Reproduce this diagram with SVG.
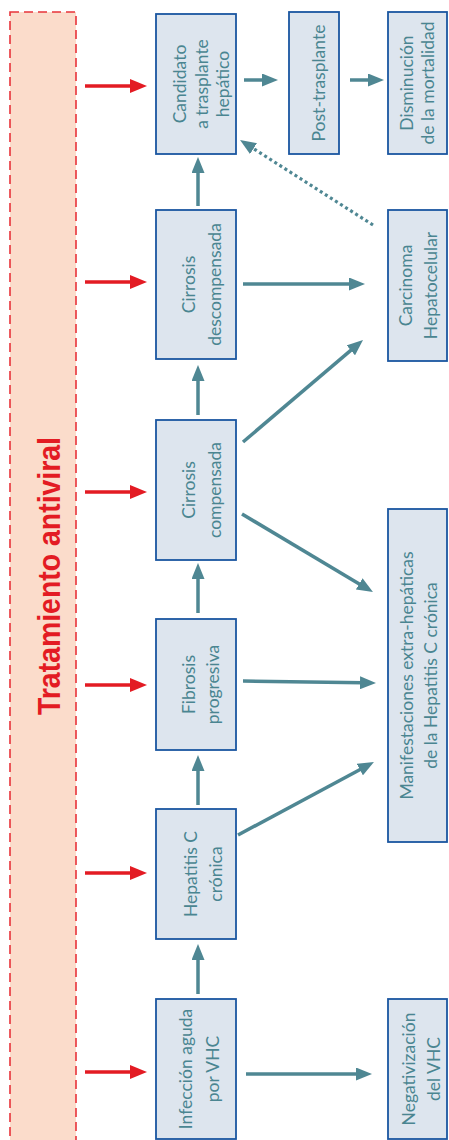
<svg xmlns="http://www.w3.org/2000/svg" width="449" height="1140" viewBox="0 0 449 1140">
<style>
.box{fill:#dde5ee;stroke:#1a56a0;stroke-width:1.8}
.lbl{font-family:Lato,"Liberation Sans",sans-serif;font-size:17.5px;fill:#4a8591;text-anchor:middle}
.ta{stroke:#4f8793;stroke-width:3.5;fill:none;marker-end:url(#ah)}
.ra{stroke:#e31b23;stroke-width:3.5;fill:none;marker-end:url(#rh)}
.dot{stroke:#4f8793;stroke-width:3.2;fill:none;stroke-dasharray:3 3;marker-end:url(#ah)}
</style>
<defs>
<marker id="ah" markerUnits="userSpaceOnUse" markerWidth="16" markerHeight="13" refX="3" refY="6.5" orient="auto"><path d="M0,0 L16,6.5 L0,13 z" fill="#4f8793"/></marker>
<marker id="rh" markerUnits="userSpaceOnUse" markerWidth="17" markerHeight="14" refX="3" refY="7" orient="auto"><path d="M0,0 L17,7 L0,14 z" fill="#e31b23"/></marker>
</defs>
<rect width="449" height="1140" fill="#ffffff"/>
<g id="tratamiento">
<rect x="10" y="12" width="66" height="1140" fill="#fbdccb" stroke="#e8333a" stroke-width="1.6" stroke-dasharray="9 5"/>
<text transform="translate(60,576) rotate(-90)" text-anchor="middle" font-family="'Liberation Sans',Arial,sans-serif" font-weight="bold" font-size="32" fill="#e31b23" textLength="278" lengthAdjust="spacingAndGlyphs">Tratamiento antiviral</text>
</g>
<g id="candidato">
<rect class="box" x="156" y="14" width="80" height="140"/>
<g transform="translate(0,84) rotate(-90)"><text class="lbl" x="0" y="186">Candidato</text><text class="lbl" x="0" y="207.5">a trasplante</text><text class="lbl" x="0" y="229">hepático</text></g>
</g>
<g id="post">
<rect class="box" x="289" y="12" width="50" height="142"/>
<g transform="translate(0,83) rotate(-90)"><text class="lbl" x="0" y="325">Post-trasplante</text></g>
</g>
<g id="disminucion">
<rect class="box" x="388" y="12" width="59" height="142"/>
<g transform="translate(0,83) rotate(-90)"><text class="lbl" x="0" y="413">Disminución</text><text class="lbl" x="0" y="433.5">de la mortalidad</text></g>
</g>
<g id="cirrosis-desc">
<rect class="box" x="156" y="210" width="80" height="149"/>
<g transform="translate(0,284.5) rotate(-90)"><text class="lbl" x="0" y="195">Cirrosis</text><text class="lbl" x="0" y="220.5">descompensada</text></g>
</g>
<g id="carcinoma">
<rect class="box" x="388" y="210" width="59" height="151"/>
<g transform="translate(0,285.5) rotate(-90)"><text class="lbl" x="0" y="411.5">Carcinoma</text><text class="lbl" x="0" y="436.5">Hepatocelular</text></g>
</g>
<g id="cirrosis-comp">
<rect class="box" x="156" y="420" width="80" height="140"/>
<g transform="translate(0,490) rotate(-90)"><text class="lbl" x="0" y="195">Cirrosis</text><text class="lbl" x="0" y="220.5">compensada</text></g>
</g>
<g id="manifestaciones">
<rect class="box" x="388" y="509" width="59" height="333"/>
<g transform="translate(0,675.5) rotate(-90)"><text class="lbl" x="0" y="412.5">Manifestaciones extra-hepáticas</text><text class="lbl" x="0" y="436.5">de la Hepatitis C crónica</text></g>
</g>
<g id="fibrosis">
<rect class="box" x="156" y="619" width="80" height="131"/>
<g transform="translate(0,684.5) rotate(-90)"><text class="lbl" x="0" y="195">Fibrosis</text><text class="lbl" x="0" y="219">progresiva</text></g>
</g>
<g id="hepatitis">
<rect class="box" x="156" y="809" width="80" height="130"/>
<g transform="translate(0,874) rotate(-90)"><text class="lbl" x="0" y="196.5">Hepatitis C</text><text class="lbl" x="0" y="221.5">crónica</text></g>
</g>
<g id="infeccion">
<rect class="box" x="156" y="999" width="80" height="140"/>
<g transform="translate(0,1069) rotate(-90)"><text class="lbl" x="0" y="191.5">Infección aguda</text><text class="lbl" x="0" y="219">por VHC</text></g>
</g>
<g id="negativizacion">
<rect class="box" x="388" y="999" width="59" height="140"/>
<g transform="translate(0,1069) rotate(-90)"><text class="lbl" x="0" y="415">Negativización</text><text class="lbl" x="0" y="440">del VHC</text></g>
</g>
<g id="connectors">
<line class="ta" x1="244" y1="80" x2="265" y2="80"/>
<line class="ta" x1="350" y1="80" x2="371" y2="80"/>
<line class="ta" x1="243" y1="284" x2="352" y2="284"/>
<line class="ta" x1="243" y1="442" x2="353.1" y2="348.4"/>
<line class="ta" x1="242" y1="514" x2="361.8" y2="585.4"/>
<line class="ta" x1="243" y1="681" x2="363" y2="682.8"/>
<line class="ta" x1="238" y1="835" x2="362.5" y2="768.2"/>
<line class="ta" x1="246" y1="1074" x2="359" y2="1074"/>
<line class="ta" x1="198" y1="994" x2="198" y2="957"/>
<line class="ta" x1="198" y1="805" x2="198" y2="768"/>
<line class="ta" x1="198" y1="613" x2="198" y2="576"/>
<line class="ta" x1="198" y1="415" x2="198" y2="378"/>
<line class="ta" x1="198" y1="206" x2="198" y2="170"/>
<line class="dot" x1="373" y1="225" x2="251" y2="147"/>
<line class="ra" x1="85" y1="86" x2="133" y2="86"/>
<line class="ra" x1="85" y1="282" x2="133" y2="282"/>
<line class="ra" x1="85" y1="492" x2="133" y2="492"/>
<line class="ra" x1="85" y1="685" x2="133" y2="685"/>
<line class="ra" x1="85" y1="873" x2="133" y2="873"/>
<line class="ra" x1="85" y1="1072" x2="133" y2="1072"/>
</g>
</svg>
